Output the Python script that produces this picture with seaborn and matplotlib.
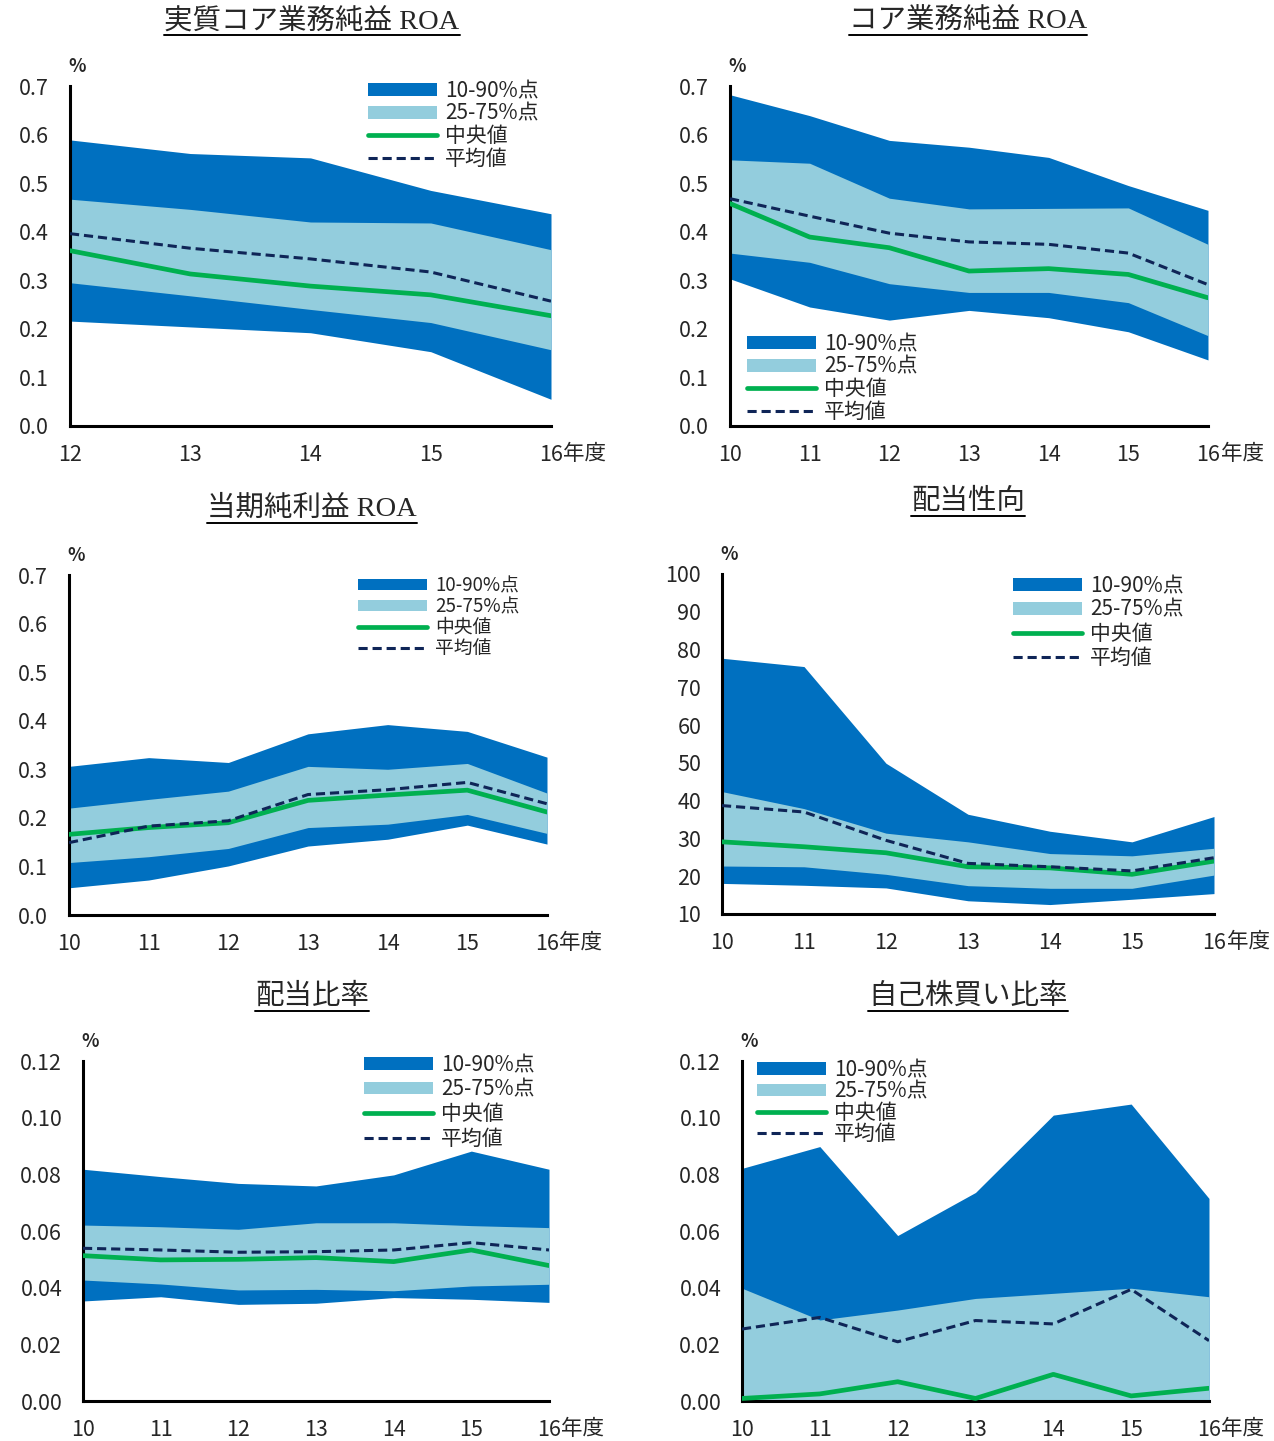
import matplotlib
matplotlib.use('Agg')
import matplotlib.pyplot as plt
import seaborn as sns
from matplotlib.patches import Patch
from matplotlib.lines import Line2D

sns.set_style('white')
plt.rcParams['font.family'] = ['Noto Sans CJK JP', 'DejaVu Sans']

DARK = '#0070C0'
LIGHT = '#93CDDD'
GREEN = '#00B050'
NAVY = '#0F2557'

years_a = [12, 13, 14, 15, 16]
years_b = [10, 11, 12, 13, 14, 15, 16]

# 実質コア業務純益 ROA
core_real_p10 = [0.216, 0.204, 0.192, 0.153, 0.055]
core_real_p25 = [0.295, 0.268, 0.240, 0.213, 0.157]
core_real_p75 = [0.467, 0.446, 0.420, 0.418, 0.363]
core_real_p90 = [0.589, 0.561, 0.552, 0.485, 0.437]
core_real_med = [0.361, 0.313, 0.288, 0.270, 0.227]
core_real_mean = [0.396, 0.366, 0.344, 0.317, 0.257]

# コア業務純益 ROA
core_p10 = [0.303, 0.245, 0.218, 0.238, 0.223, 0.194, 0.136]
core_p25 = [0.356, 0.337, 0.293, 0.275, 0.275, 0.254, 0.186]
core_p75 = [0.548, 0.541, 0.469, 0.447, 0.448, 0.449, 0.374]
core_p90 = [0.682, 0.639, 0.588, 0.574, 0.553, 0.495, 0.444]
core_med = [0.458, 0.389, 0.367, 0.319, 0.324, 0.312, 0.264]
core_mean = [0.468, 0.432, 0.397, 0.379, 0.374, 0.356, 0.291]

# 当期純利益 ROA
net_p10 = [0.056, 0.072, 0.101, 0.142, 0.156, 0.185, 0.146]
net_p25 = [0.108, 0.120, 0.137, 0.180, 0.187, 0.207, 0.168]
net_p75 = [0.220, 0.238, 0.255, 0.306, 0.300, 0.312, 0.251]
net_p90 = [0.306, 0.324, 0.314, 0.373, 0.392, 0.378, 0.325]
net_med = [0.166, 0.180, 0.190, 0.236, 0.247, 0.257, 0.212]
net_mean = [0.149, 0.183, 0.194, 0.248, 0.258, 0.273, 0.229]

# 配当性向
payout_p10 = [18.1, 17.6, 16.9, 13.5, 12.5, 13.9, 15.4]
payout_p25 = [22.7, 22.5, 20.5, 17.5, 16.8, 16.8, 20.3]
payout_p75 = [42.4, 37.9, 31.4, 29.1, 26.0, 25.4, 27.4]
payout_p90 = [77.7, 75.5, 49.9, 36.4, 31.9, 29.1, 35.8]
payout_med = [29.1, 27.8, 26.2, 22.5, 22.2, 20.5, 24.0]
payout_mean = [38.7, 37.0, 29.5, 23.4, 22.5, 21.4, 24.9]

# 配当比率
div_p10 = [0.0353, 0.0368, 0.0341, 0.0345, 0.0365, 0.0359, 0.0348]
div_p25 = [0.0427, 0.0413, 0.0392, 0.0394, 0.0389, 0.0406, 0.0412]
div_p75 = [0.0621, 0.0615, 0.0606, 0.0629, 0.0629, 0.0619, 0.0612]
div_p90 = [0.0818, 0.0792, 0.0768, 0.0759, 0.0798, 0.0882, 0.0818]
div_med = [0.0513, 0.0498, 0.0500, 0.0506, 0.0492, 0.0533, 0.0478]
div_mean = [0.0539, 0.0533, 0.0525, 0.0527, 0.0533, 0.0559, 0.0533]

# 自己株買い比率
buyback_p10 = [0.0, 0.0, 0.0, 0.0, 0.0, 0.0, 0.0]
buyback_p25 = [0.0, 0.0, 0.0, 0.0, 0.0, 0.0, 0.0]
buyback_p75 = [0.0398, 0.0286, 0.0321, 0.0362, 0.0380, 0.0398, 0.0368]
buyback_p90 = [0.0821, 0.0898, 0.0584, 0.0736, 0.1009, 0.1048, 0.0715]
buyback_med = [0.0009, 0.0025, 0.0068, 0.0009, 0.0094, 0.0018, 0.0045]
buyback_mean = [0.0254, 0.0295, 0.0209, 0.0284, 0.0272, 0.0394, 0.0213]

roa_ticks = [0.0, 0.1, 0.2, 0.3, 0.4, 0.5, 0.6, 0.7]
payout_ticks = [10, 20, 30, 40, 50, 60, 70, 80, 90, 100]
ratio_ticks = [0.00, 0.02, 0.04, 0.06, 0.08, 0.10, 0.12]

legend_labels = ['10-90%点', '25-75%点', '中央値', '平均値']

W, H = 1274, 1441
fig = plt.figure(figsize=(W / 100, H / 100), dpi=100)

# pixel layout: axis box (left, right, top, bottom), title centre, legend top-left,
# legend spacing and legend font size
panels = [
    dict(title='実質コア業務純益 ROA', years=years_a,
         bands=(core_real_p10, core_real_p25, core_real_p75, core_real_p90),
         med=core_real_med, mean=core_real_mean, ticks=roa_ticks, fmt='{:.1f}',
         box=(70, 551, 86, 426), tpos=(312, 21), leg=(368, 80), sp=0.03, lf=15),
    dict(title='コア業務純益 ROA', years=years_b,
         bands=(core_p10, core_p25, core_p75, core_p90),
         med=core_med, mean=core_mean, ticks=roa_ticks, fmt='{:.1f}',
         box=(730, 1208, 86, 426), tpos=(968, 21), leg=(747, 333), sp=0.03, lf=15),
    dict(title='当期純利益 ROA', years=years_b,
         bands=(net_p10, net_p25, net_p75, net_p90),
         med=net_med, mean=net_mean, ticks=roa_ticks, fmt='{:.1f}',
         box=(69, 547, 575, 915), tpos=(312, 509), leg=(358, 575), sp=0.0, lf=13.5),
    dict(title='配当性向', years=years_b,
         bands=(payout_p10, payout_p25, payout_p75, payout_p90),
         med=payout_med, mean=payout_mean, ticks=payout_ticks, fmt='{:.0f}',
         box=(722, 1214, 574, 914), tpos=(968, 502), leg=(1013, 575), sp=0.09, lf=15),
    dict(title='配当比率', years=years_b,
         bands=(div_p10, div_p25, div_p75, div_p90),
         med=div_med, mean=div_mean, ticks=ratio_ticks, fmt='{:.2f}',
         box=(83, 549, 1061, 1401), tpos=(312, 997), leg=(364, 1054), sp=0.12, lf=15),
    dict(title='自己株買い比率', years=years_b,
         bands=(buyback_p10, buyback_p25, buyback_p75, buyback_p90),
         med=buyback_med, mean=buyback_mean, ticks=ratio_ticks, fmt='{:.2f}',
         box=(742, 1209, 1061, 1401), tpos=(968, 997), leg=(757, 1059), sp=-0.03, lf=15),
]

titles = []
for p in panels:
    x0, x1, y0, y1 = p['box']
    ax = fig.add_axes([x0 / W, 1 - y1 / H, (x1 - x0) / W, (y1 - y0) / H])
    yrs = p['years']
    p10, p25, p75, p90 = p['bands']
    ax.fill_between(yrs, p10, p90, color=DARK, lw=0, zorder=1)
    ax.fill_between(yrs, p25, p75, color=LIGHT, lw=0, zorder=2)
    sns.lineplot(x=yrs, y=p['med'], ax=ax, color=GREEN, lw=3.4, zorder=3)
    sns.lineplot(x=yrs, y=p['mean'], ax=ax, color=NAVY, lw=2.2, linestyle=(0, (3, 1.6)), zorder=4)

    ax.set_xlim(yrs[0], yrs[-1])
    ax.set_ylim(p['ticks'][0], p['ticks'][-1])
    ax.set_yticks(p['ticks'])
    ax.set_yticklabels([p['fmt'].format(t) for t in p['ticks']])
    ax.set_xticks(yrs)
    ax.set_xticklabels([str(y) for y in yrs])
    ax.tick_params(axis='both', direction='out', length=5, width=1.5, color='black',
                   labelsize=15.5)
    ax.tick_params(axis='y', pad=10)
    ax.tick_params(axis='x', pad=8)
    for s in ['top', 'right']:
        ax.spines[s].set_visible(False)
    for s in ['left', 'bottom']:
        ax.spines[s].set_linewidth(2.2)
        ax.spines[s].set_color('black')
    ax.set_xlabel('')
    ax.set_ylabel('')
    ax.grid(False)

    ax.annotate('年度', xy=(1, 0), xycoords='axes fraction', xytext=(9, -12),
                textcoords='offset points', ha='left', va='top', fontsize=15.5)
    ax.annotate('%', xy=(0, 1), xycoords='axes fraction', xytext=(5, 7),
                textcoords='offset points', ha='center', va='bottom', fontsize=13,
                fontweight='bold')

    handles = [Patch(facecolor=DARK, edgecolor='none'),
               Patch(facecolor=LIGHT, edgecolor='none'),
               Line2D([], [], color=GREEN, lw=3.4),
               Line2D([], [], color=NAVY, lw=2.2, linestyle=(0, (3, 1.6)))]
    lx, ly = p['leg']
    ax.legend(handles, legend_labels, loc='upper left',
              bbox_to_anchor=(lx / W, 1 - ly / H), bbox_transform=fig.transFigure,
              frameon=False, fontsize=p['lf'], handlelength=69 / (p['lf'] * 1.389),
              handleheight=0.55, handletextpad=8 / (p['lf'] * 1.389), labelspacing=p['sp'],
              borderpad=0, borderaxespad=0)

    t = fig.text(p['tpos'][0] / W, 1 - p['tpos'][1] / H, p['title'], ha='center', va='center',
                 fontsize=20.5, family=['Liberation Serif', 'Noto Sans CJK JP'])
    titles.append(t)

# underline the titles
fig.canvas.draw()
renderer = fig.canvas.get_renderer()
for t in titles:
    bb = t.get_window_extent(renderer)
    yy = (bb.y0 - 1) / H
    fig.add_artist(Line2D([bb.x0 / W, bb.x1 / W], [yy, yy], color='black', lw=1.4))

fig.savefig('out.png', dpi=100)
